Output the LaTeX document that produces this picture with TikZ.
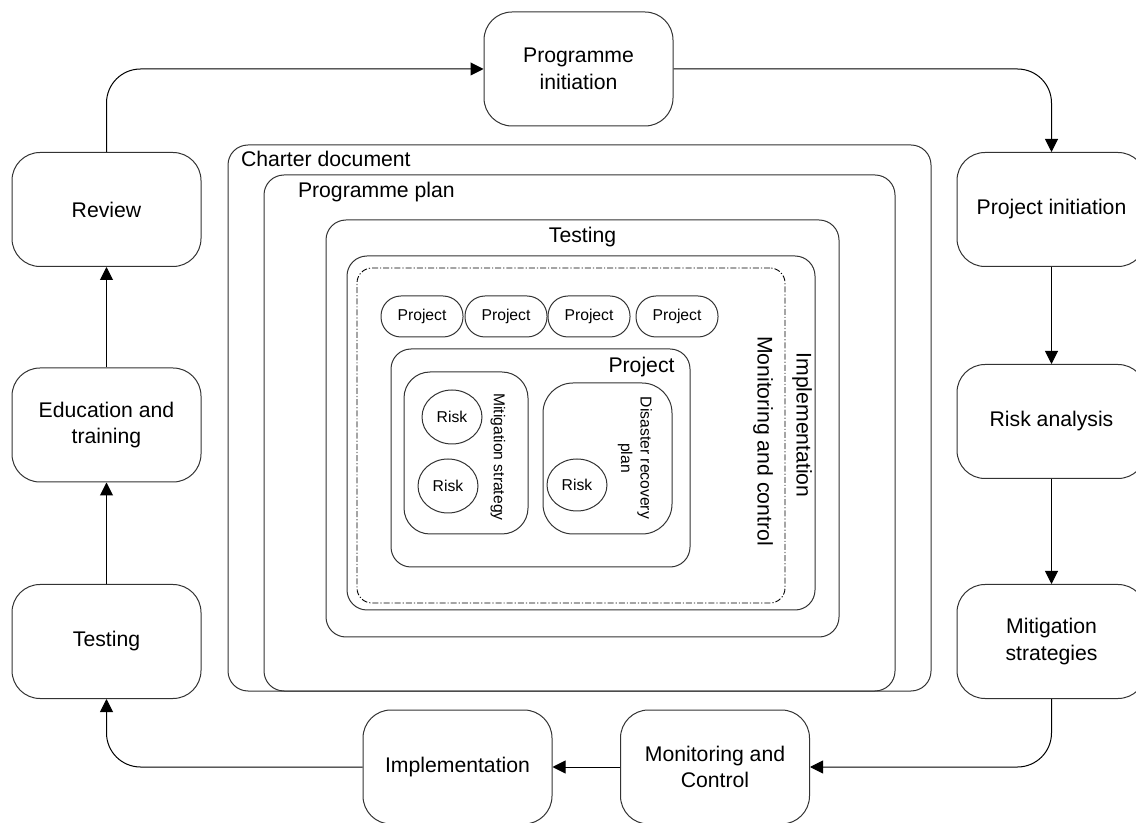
\documentclass[tikz,border=0pt]{standalone}
\usepackage{fontspec}
\setmainfont{Liberation Sans}
\usetikzlibrary{arrows.meta, positioning, calc, shapes.geometric}
\newcommand{\stagefont}{\fontsize{10.6}{13.2}\selectfont}
\newcommand{\riskfont}{\fontsize{7.85}{9.8}\selectfont}
\tikzset{
    stage/.style={draw=black!80, rounded corners=14pt, minimum width=94.5pt, minimum height=57pt, align=center, font=\stagefont, inner sep=1pt},
    frame/.style={draw=black!80, rounded corners=10pt, inner sep=0pt},
    dashframe/.style={frame, draw=black, rounded corners=7.5pt, line width=0.45pt, dash pattern=on 3pt off 1pt on 0.6pt off 1pt},
    projbox/.style={draw=black!80, rounded corners=10pt, minimum width=41pt, minimum height=20.5pt, font=\riskfont, inner sep=0pt},
    risk/.style={draw=black!80, ellipse, minimum width=30pt, minimum height=27pt, font=\riskfont, inner sep=0pt},
    lbl/.style={inner sep=0pt, font=\stagefont},
    smalllbl/.style={inner sep=0pt, font=\riskfont, align=center},
    flow/.style={-{Triangle[length=6.5pt, width=6.5pt]}, draw=black, rounded corners=17pt, line width=0.5pt}
}
\begin{document}
\begin{tikzpicture}[x=0.5pt, y=-0.5pt, line width=0.5pt]
    \useasboundingbox (0,0) rectangle (1136,823);
    % cycle of stages
    \node[stage] (proginit) at (578.5,69) {Programme\\initiation};
    \node[stage] (projinit) at (1051.5,209.5) {Project initiation};
    \node[stage] (riskan) at (1051.5,421.5) {Risk analysis};
    \node[stage] (mitig) at (1051.5,641.5) {Mitigation\\strategies};
    \node[stage] (monctl) at (715,767) {Monitoring and\\Control};
    \node[stage] (impl) at (457.5,767) {Implementation};
    \node[stage] (testing) at (106.5,641.5) {Testing};
    \node[stage] (edu) at (106.5,425) {Education and\\training};
    \node[stage] (review) at (106.5,209.5) {Review};
    \draw[flow] (review.north) |- (proginit.west);
    \draw[flow] (proginit.east) -| (projinit.north);
    \draw[flow] (projinit) -- (riskan);
    \draw[flow] (riskan) -- (mitig);
    \draw[flow] (mitig.south) |- (monctl.east);
    \draw[flow] (monctl) -- (impl);
    \draw[flow] (impl.west) -| (testing.south);
    \draw[flow] (testing) -- (edu);
    \draw[flow] (edu) -- (review);
    % nested documents
    \node[frame, minimum width=351.5pt, minimum height=273pt] (charter) at (579.5,418) {};
    \node[frame, minimum width=315.5pt, minimum height=258pt] (plan) at (579.5,433) {};
    \node[frame, minimum width=256.5pt, minimum height=208.5pt] (testframe) at (582.5,428.5) {};
    \node[frame, minimum width=234pt, minimum height=177pt] (implframe) at (581,433) {};
    \node[dashframe, minimum width=214pt, minimum height=167.5pt] (monframe) at (571,435.5) {};
    \node[lbl, anchor=west] (charterlbl) at ($(charter.north west)+(13,14)$) {Charter document};
    \node[lbl, anchor=west] (planlbl) at ($(plan.north west)+(34,18)$) {Programme plan};
    \node[lbl] (testlbl) at (582.5,237) {Testing};
    \node[lbl, rotate=-90] (impllbl) at (802,425) {Implementation};
    \node[lbl, rotate=-90] (monlbl) at (763,441) {Monitoring and control};
    % projects
    \node[projbox] (p1) at (422,316.5) {Project};
    \node[projbox] (p2) at (506,316.5) {Project};
    \node[projbox] (p3) at (589,316.5) {Project};
    \node[projbox] (p4) at (677,316.5) {Project};
    \node[frame, minimum width=149.5pt, minimum height=109pt] (bigproj) at (540.5,458) {};
    \node[lbl, anchor=east] (bigprojlbl) at (675,367) {Project};
    \node[frame, rounded corners=13pt, minimum width=62pt, minimum height=81pt] (mitbox) at (466,453) {};
    \node[frame, rounded corners=15pt, minimum width=64.5pt, minimum height=75.5pt] (disbox) at (607.5,458.5) {};
    \node[smalllbl, rotate=-90] (mitlbl) at (498,457) {Mitigation strategy};
    \node[smalllbl, rotate=-90] (dislbl) at (635,458) {Disaster recovery\\plan};
    \node[risk] (r1) at (452,417) {Risk};
    \node[risk] (r2) at (448,486) {Risk};
    \node[risk, minimum height=26pt] (r3) at (577,485) {Risk};
\end{tikzpicture}
\end{document}
